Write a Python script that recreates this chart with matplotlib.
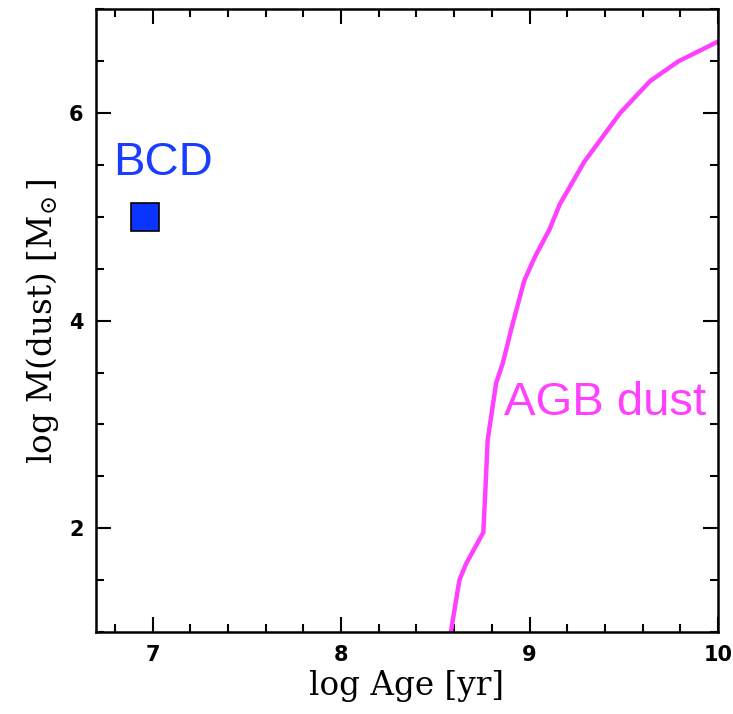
import numpy as np
import matplotlib.pyplot as plt
from matplotlib.ticker import MultipleLocator

plt.rcParams['mathtext.fontset'] = 'dejavuserif'

# AGB dust mass track
agb_age = [8.58, 8.628, 8.664, 8.755, 8.768, 8.778, 8.823, 8.858, 8.902, 8.94, 8.973,
           9.03, 9.106, 9.16, 9.29, 9.48, 9.64, 9.79, 10.0]
agb_mass = [0.97, 1.50, 1.66, 1.96, 2.45, 2.85, 3.40, 3.59, 3.91, 4.17, 4.39,
            4.62, 4.88, 5.12, 5.53, 6.0, 6.31, 6.5, 6.69]

# BCD point
bcd_age = [6.96]
bcd_mass = [5.0]

fig = plt.figure(figsize=(7.33, 7.14), dpi=100)
ax = fig.add_axes([0.131, 0.1148, 0.8485, 0.872])

ax.plot(agb_age, agb_mass, color='#ff40ff', lw=3.2)
ax.plot(bcd_age, bcd_mass, 's', ms=20, mfc='#0a35ff', mec='black', mew=1.2)

ax.text(6.79, 5.405, 'BCD', color='#1a3cff', fontsize=34, family='Liberation Sans')
ax.text(8.867, 3.09, 'AGB dust', color='#ff40ff', fontsize=34, family='Liberation Sans')

ax.set_xlim(6.7, 10)
ax.set_ylim(1, 7)
ax.xaxis.set_major_locator(MultipleLocator(1))
ax.xaxis.set_minor_locator(MultipleLocator(0.2))
ax.yaxis.set_major_locator(MultipleLocator(2))
ax.yaxis.set_minor_locator(MultipleLocator(0.5))

ax.tick_params(which='both', direction='in', top=True, right=True, width=1.5)
ax.tick_params(which='major', length=11, pad=9, labelsize=15)
ax.tick_params(which='minor', length=6)
for lab in ax.get_xticklabels() + ax.get_yticklabels():
    lab.set_fontweight('bold')
for s in ax.spines.values():
    s.set_linewidth(1.8)

ax.set_xlabel('log Age [yr]', family='DejaVu Serif', fontsize=23.5, labelpad=4)
ax.set_ylabel(r'log M(dust) [$\mathrm{M}_{\!\odot}$]', family='DejaVu Serif', fontsize=23.5, labelpad=6)

fig.savefig('out.png', dpi=100)
